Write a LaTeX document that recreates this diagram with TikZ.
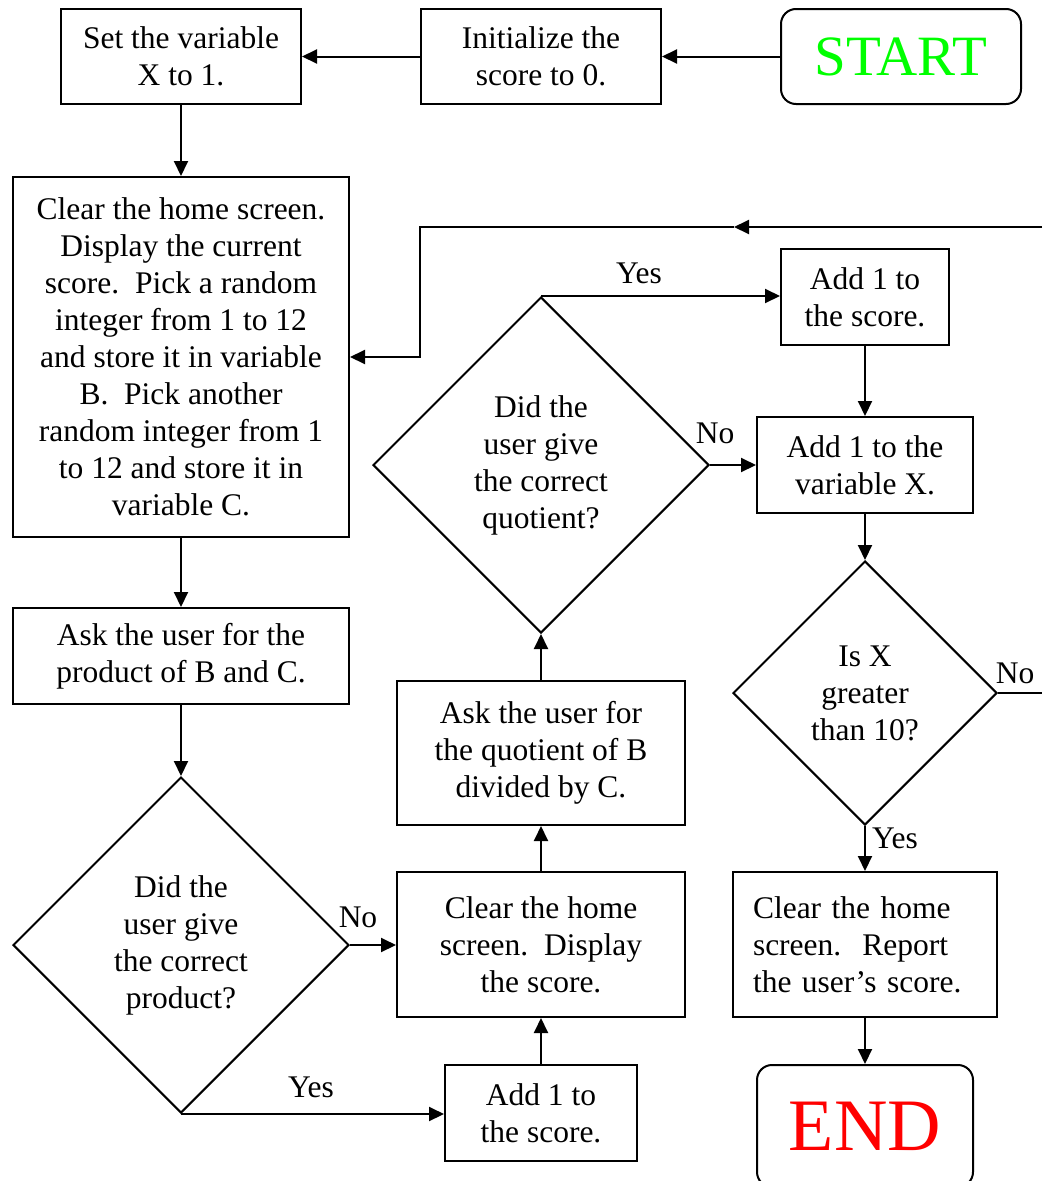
\documentclass[tikz,border=0pt]{standalone}
\usepackage{fontspec}
\setmainfont{Liberation Serif}
\usetikzlibrary{shapes.geometric,arrows.meta}
\definecolor{startgreen}{RGB}{0,255,0}
\definecolor{endred}{RGB}{255,0,0}
\begin{document}
\begin{tikzpicture}[x=1pt,y=-1pt,
  line width=2pt,
  txt/.style={font=\fontsize{31.5}{37}\selectfont},
  procbox/.style={txt,draw,rectangle,inner sep=0pt,align=center},
  termbox/.style={draw,rectangle,rounded corners=15pt,inner sep=0pt},
  decision/.style={txt,draw,diamond,aspect=1,inner sep=0pt,align=center},
  lbl/.style={txt,inner sep=0pt},
  arr/.style={-{Triangle[length=15pt,width=14pt]}}]
\useasboundingbox (0,0) rectangle (1042,1181);

% top row
\node[termbox,minimum width=240pt,minimum height=95pt,text=startgreen,font=\fontsize{57}{60}\selectfont] (start) at (901,56.5) {START};
\node[procbox,minimum width=240pt,minimum height=95pt] (init) at (541,56.5) {Initialize the\\score to 0.};
\node[procbox,minimum width=240pt,minimum height=95pt] (setx) at (181,56.5) {Set the variable\\X to 1.};

% left column
\node[procbox,minimum width=336pt,minimum height=360pt] (pick) at (181,357) {Clear the home screen.\\Display the current\\score.\ \ Pick a random\\integer from 1 to 12\\and store it in variable\\B.\ \ Pick another\\random integer from 1\\to 12 and store it in\\variable C.};
\node[procbox,minimum width=336pt,minimum height=96pt] (askprod) at (181,656) {Ask the user for the\\product of B and C.};
\node[decision,minimum width=336pt,minimum height=336pt] (okprod) at (181,945) {Did the\\user give\\the correct\\product?};

% middle column
\node[procbox,minimum width=192pt,minimum height=96pt] (addone) at (541,1113) {Add 1 to\\the score.};
\node[procbox,minimum width=288pt,minimum height=145pt] (showsc) at (541,944.5) {Clear the home\\screen.\ \ Display\\the score.};
\node[procbox,minimum width=288pt,minimum height=144pt] (askquot) at (541,753) {Ask the user for\\the quotient of B\\divided by C.};
\node[decision,minimum width=336pt,minimum height=336pt] (okquot) at (541,465) {Did the\\user give\\the correct\\quotient?};

% right column
\node[procbox,minimum width=168pt,minimum height=96pt] (addtwo) at (865,297) {Add 1 to\\the score.};
\node[procbox,minimum width=216pt,minimum height=96pt] (addx) at (865,465) {Add 1 to the\\variable X.};
\node[decision,minimum width=264pt,minimum height=264pt] (isten) at (865,693) {Is X\\greater\\than 10?};
\node[txt,draw,rectangle,inner xsep=20pt,inner ysep=0pt,text width=224pt,minimum height=145pt,align=left] (report) at (865,944.5) {Clear the home\\screen.\ \ Report\\the user’s score.};
\node[termbox,minimum width=216pt,minimum height=122pt,text=endred,font=\fontsize{74}{80}\selectfont] (finish) at (865,1126) {END};

% free ends
\coordinate (loopin) at (1042,227);
\coordinate (loopmid) at (734,227);
\coordinate (loopturn) at (420,227);
\coordinate (noout) at (1042,693);

% connectors
\draw[arr] (start) -- (init);
\draw[arr] (init) -- (setx);
\draw[arr] (setx) -- (pick);
\draw[arr] (pick) -- (askprod);
\draw[arr] (askprod) -- (okprod);
\draw[arr] (okprod.east) -- (okprod.east -| showsc.west);
\draw[arr] (okprod.south) -- (okprod.south -| addone.west);
\draw[arr] (addone) -- (showsc);
\draw[arr] (showsc) -- (askquot);
\draw[arr] (askquot) -- (okquot);
\draw[arr] (okquot.north) -- (okquot.north -| addtwo.west);
\draw[arr] (okquot.east) -- (okquot.east -| addx.west);
\draw[arr] (addtwo) -- (addx);
\draw[arr] (addx) -- (isten);
\draw[arr] (isten) -- (report);
\draw[arr] (report) -- (finish);
\draw (isten.east) -- (noout);
\draw[arr] (loopin) -- (loopmid);
\draw[arr] (loopmid) -- (loopturn) |- (pick.east);

% branch labels
\node[lbl] (yesprod) at (311,1087) {Yes};
\node[lbl] (noprod) at (358,917) {No};
\node[lbl] (yesquot) at (639,273) {Yes};
\node[lbl] (noquot) at (715,433) {No};
\node[lbl] (noten) at (1015,673) {No};
\node[lbl] (yesten) at (895,838) {Yes};
\end{tikzpicture}
\end{document}
